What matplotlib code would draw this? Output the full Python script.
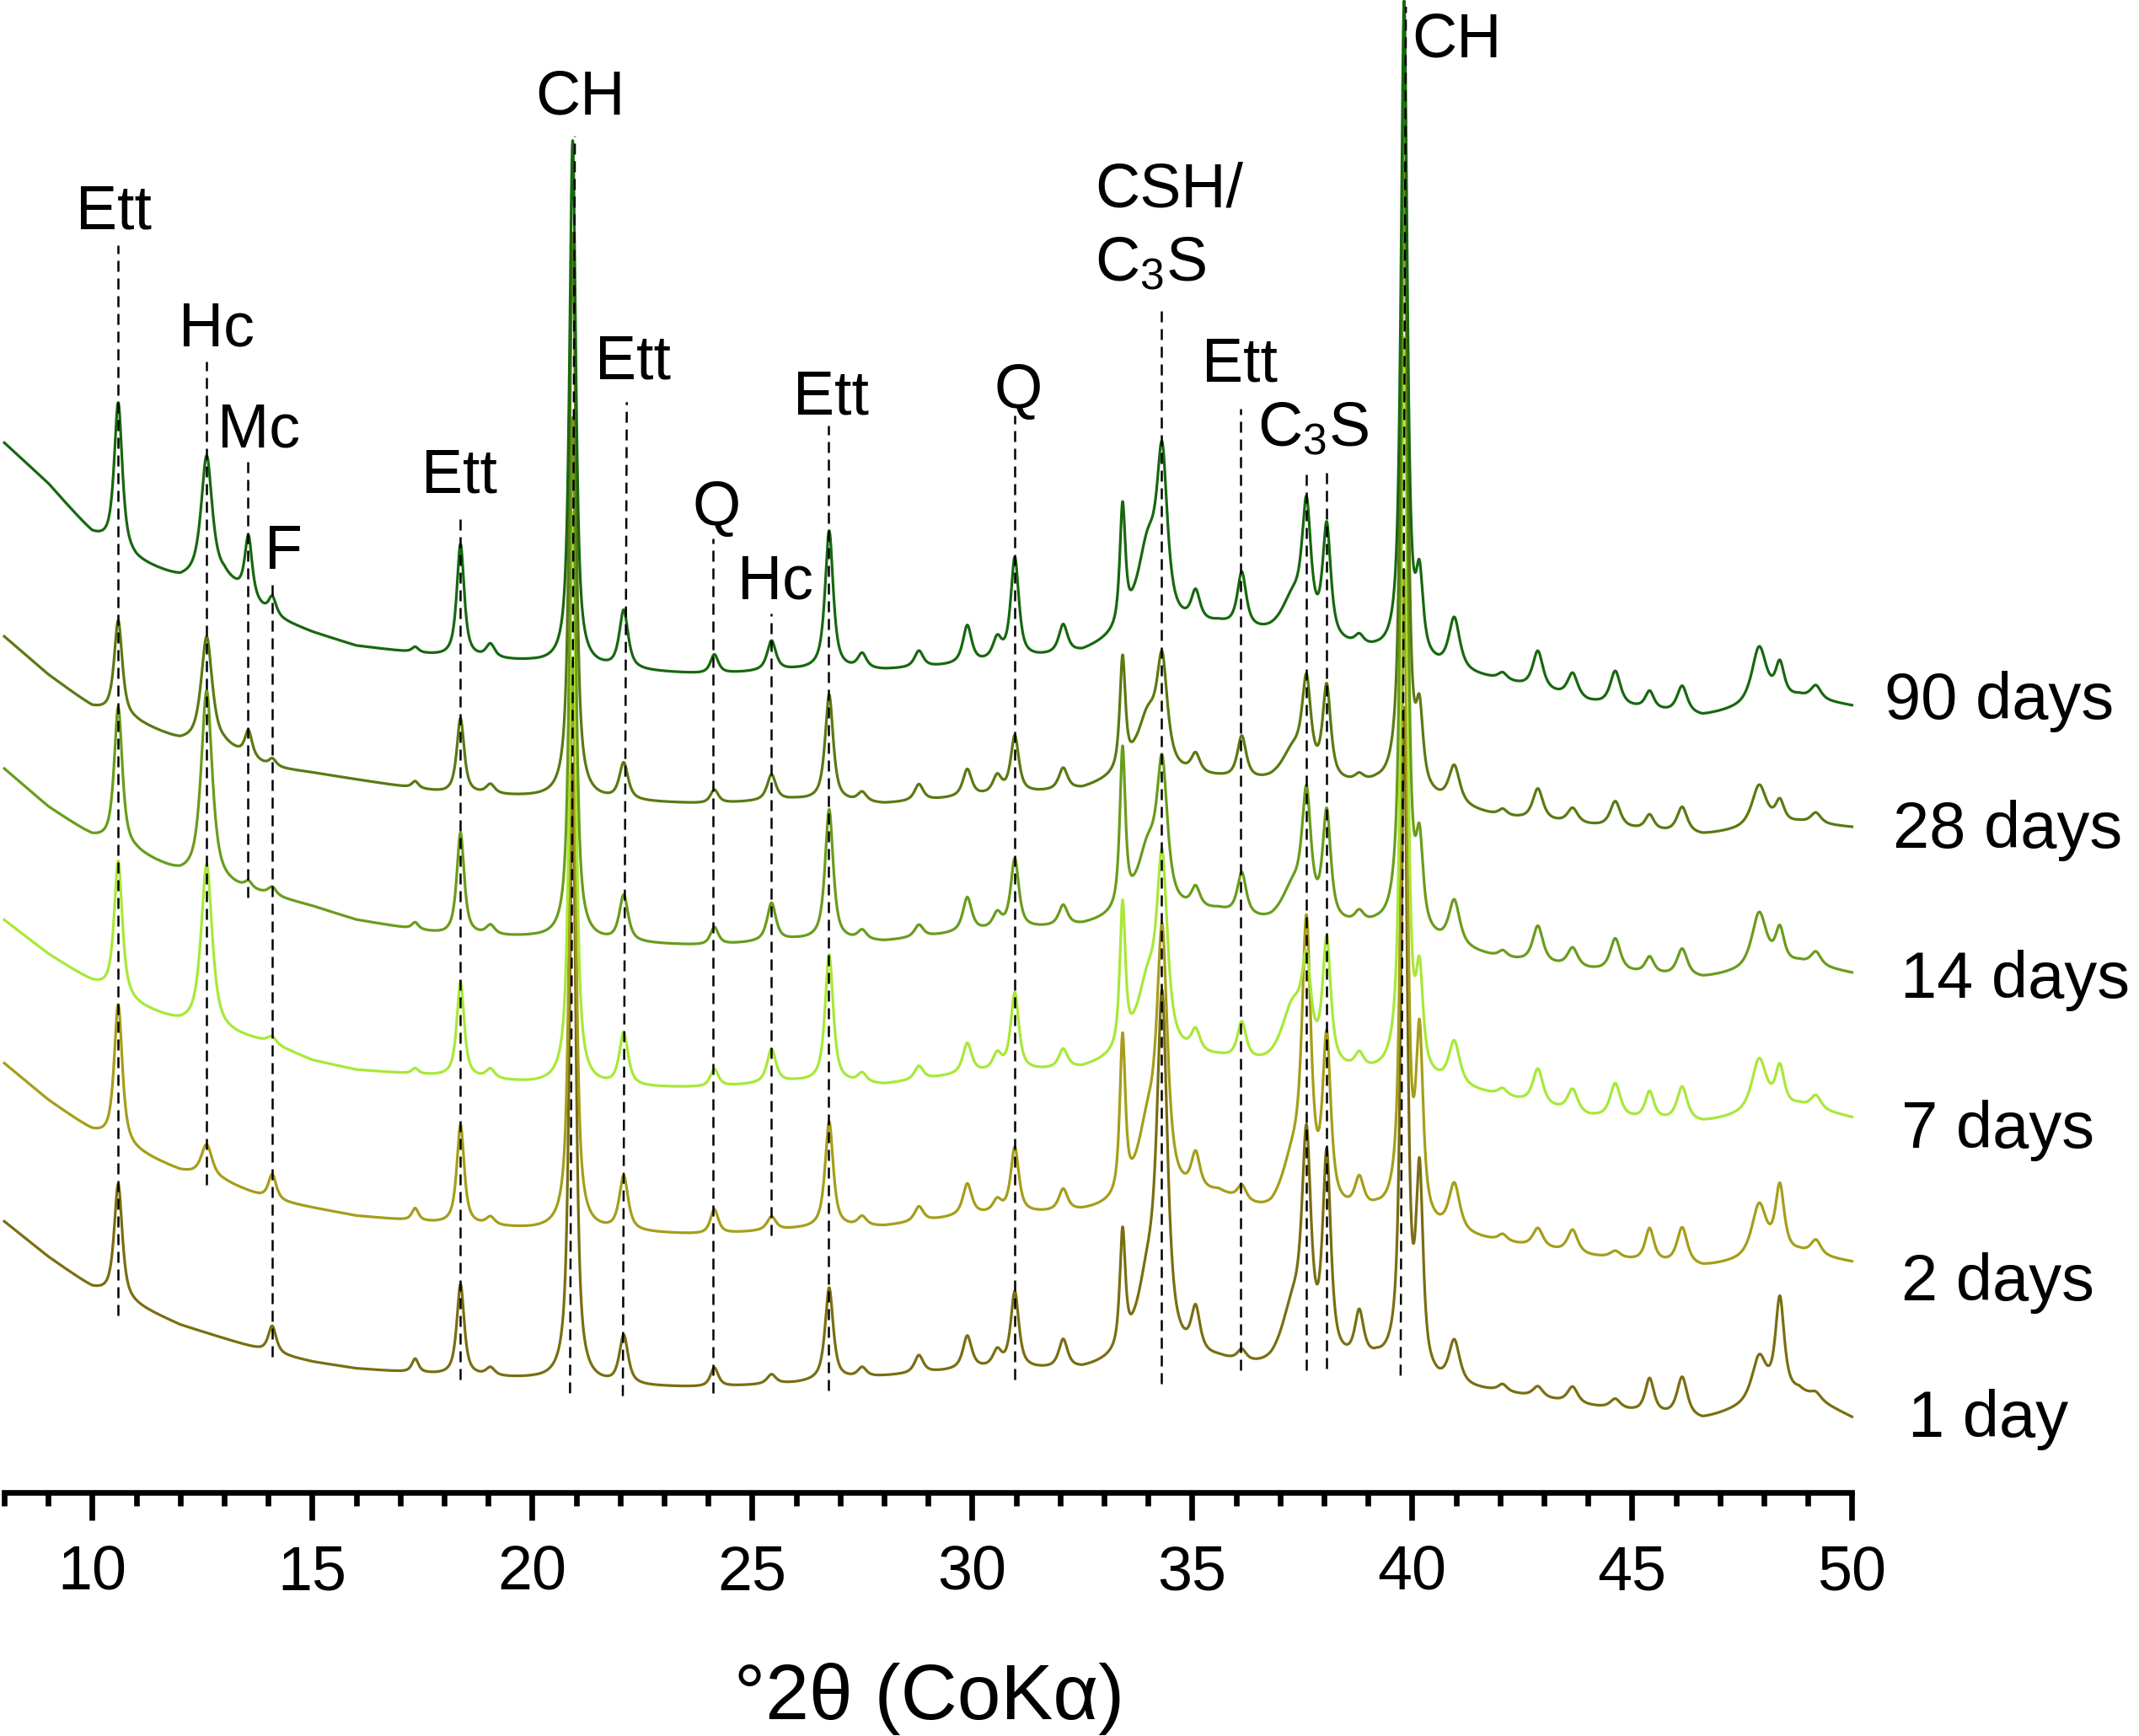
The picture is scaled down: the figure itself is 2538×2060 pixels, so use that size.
import numpy as np
import matplotlib.pyplot as plt

plt.rcParams['font.family'] = ['Liberation Sans', 'DejaVu Sans']
plt.rcParams['mathtext.fontset'] = 'custom'
plt.rcParams['mathtext.rm'] = 'Liberation Sans'
plt.rcParams['mathtext.sf'] = 'Liberation Sans'
plt.rcParams['mathtext.it'] = 'Liberation Serif'

# background anchors (deg 2theta) and background intensity of each pattern (a.u., offset stacked)
anchor_2theta = [8, 9, 10, 11, 12, 13, 14, 15, 16, 18, 20, 22, 24, 26, 28, 30, 32.5, 33.7,
                 35.6, 36.8, 39.2, 40.6, 42, 44, 46.6, 48.8, 50]
bg_90d = [770, 740, 703, 683, 670, 670, 643, 631, 621, 613, 609, 603, 600, 603, 603, 607, 615, 630,
          635, 627, 615, 603, 595, 579, 569, 583, 577]
bg_28d = [628, 600, 576, 565, 551, 547, 532, 528, 523, 513, 510, 507, 505, 508, 505, 510, 515, 527,
          523, 519, 517, 505, 495, 489, 482, 491, 488]
bg_14d = [531, 503, 481, 469, 453, 445, 438, 430, 420, 409, 407, 403, 401, 405, 404, 411, 415, 423,
          425, 415, 413, 401, 391, 383, 377, 388, 381]
bg_7d = [420, 395, 374, 357, 344, 337, 330, 317, 310, 305, 300, 297, 297, 301, 299, 307, 310, 320,
         317, 310, 305, 298, 290, 275, 271, 283, 275]
bg_2d = [315, 288, 265, 250, 236, 228, 215, 209, 203, 197, 193, 191, 189, 193, 195, 203, 205, 210,
         217, 200, 203, 190, 183, 173, 165, 175, 169]
bg_1d = [199, 173, 150, 137, 123, 113, 103, 96, 91, 86, 83, 78, 77, 80, 85, 90, 89, 97,
         95, 87, 93, 77, 73, 63, 53, 73, 55]

# reflections: position, half width, and height in each pattern
peak_2theta = [10.59, 12.60, 13.55, 14.09, 17.34, 18.37, 19.05, 20.92, 22.08, 24.14, 25.44, 26.75,
               27.5, 28.79, 29.89, 30.57, 30.97, 32.07, 33.42, 34.0, 34.32, 35.08, 36.13, 37.3,
               37.60, 38.06, 38.80, 39.82, 40.17, 40.96, 42.06, 42.86, 43.65, 44.62, 45.40, 46.14,
               47.89, 48.36, 49.18]
peak_hwhm = [0.11, 0.15, 0.1, 0.11, 0.09, 0.1, 0.12, 0.085, 0.12, 0.11, 0.12, 0.11,
             0.12, 0.12, 0.12, 0.12, 0.11, 0.12, 0.075, 0.28, 0.14, 0.12, 0.12, 0.32,
             0.12, 0.11, 0.12, 0.085, 0.095, 0.15, 0.12, 0.14, 0.14, 0.14, 0.12, 0.14,
             0.2, 0.12, 0.14]
h_90d = [108, 90, 45, 14, 4, 83, 10, 385, 43, 14, 22, 102, 11, 12, 28, 15, 74, 21, 88, 60, 112, 22,
         40, 28, 88, 82, 7, 480, 54, 38, 5, 28, 18, 25, 13, 20, 42, 25, 10]
h_28d = [70, 79, 19, 6, 5, 55, 7, 415, 27, 10, 19, 78, 7, 12, 20, 13, 42, 16, 82, 40, 73, 14,
         31, 23, 66, 68, 5, 540, 51, 28, 5, 23, 11, 19, 11, 19, 31, 16, 8]
h_14d = [102, 140, 5, 6, 5, 75, 7, 383, 34, 13, 28, 96, 7, 9, 25, 11, 51, 15, 117, 45, 97, 15,
         31, 26, 86, 79, 8, 563, 59, 33, 5, 27, 14, 24, 12, 20, 41, 25, 10]
h_7d = [99, 121, 0, 5, 4, 70, 7, 420, 39, 13, 25, 94, 7, 10, 22, 12, 57, 14, 106, 50, 130, 16,
        27, 45, 60, 91, 11, 540, 67, 32, 5, 26, 17, 25, 20, 25, 39, 29, 10]
h_2d = [102, 24, 0, 19, 9, 73, 6, 417, 40, 18, 10, 78, 7, 11, 23, 9, 48, 16, 116, 52, 181, 27,
        11, 38, 196, 121, 22, 470, 130, 35, 5, 14, 17, 5, 24, 27, 39, 49, 11]
h_1d = [84, 0, 0, 20, 10, 67, 6, 447, 36, 14, 7, 68, 7, 13, 24, 12, 56, 21, 86, 52, 248, 32,
        8, 43, 150, 147, 34, 480, 140, 32, 5, 8, 12, 7, 25, 29, 33, 71, 5]

ages = ['1 day', '2 days', '7 days', '14 days', '28 days', '90 days']
backgrounds = [bg_1d, bg_2d, bg_7d, bg_14d, bg_28d, bg_90d]
heights = [h_1d, h_2d, h_7d, h_14d, h_28d, h_90d]
colors = ['#7A6E12', '#A59E1A', '#A8E838', '#6A9C1C', '#5A7A12', '#17680F']

# phase marks
phase_names = ['Ett', 'Hc', 'Mc', 'F', 'Ett', 'CH', 'Ett', 'Q', 'Hc', 'Ett', 'Q',
               'CSH/', r'C$_\mathrm{3}$S', 'Ett', r'C$_\mathrm{3}$S', 'CH']
name_x = [10.48, 12.82, 13.78, 14.34, 18.34, 21.09, 22.29, 24.19, 25.53, 26.79, 31.04,
          34.47, 34.05, 36.09, 37.75, 41.01]
name_y = [927, 841, 767, 678, 734, 1011, 817, 710, 656, 791, 796, 943, 889, 815, 768, 1053]
mark_x0 = [10.59, 12.60, 13.53, 14.09, 18.37, 20.86, 22.06, 24.11, 25.44, 26.74, 30.96,
           34.31, 36.11, 37.60, 38.06, 39.74]
mark_x1 = [10.59, 12.60, 13.53, 14.09, 18.37, 20.97, 22.15, 24.11, 25.44, 26.74, 30.96,
           34.31, 36.11, 37.60, 38.06, 39.86]
mark_y0 = [130, 226, 437, 100, 83, 73, 71, 73, 189, 75, 83, 80, 90, 90, 91, 86]
mark_y1 = [915, 830, 760, 670, 717, 995, 800, 700, 645, 783, 790, 870, 795, 750, 750, 1090]

age_x = [51.28, 51.13, 51.13, 51.10, 50.94, 50.73]
age_y = [41, 141, 253, 363, 473, 568]

two_theta = np.arange(8.0, 50.0005, 0.005)


def pattern(bg, hts):
    y = np.interp(two_theta, anchor_2theta, bg)
    for pos, w, h in zip(peak_2theta, peak_hwhm, hts):
        u = ((two_theta - pos) / w) ** 2
        y = y + h * (0.8 / (1 + u) + 0.2 * np.exp(-np.log(2) * u))
    return y


fig = plt.figure(figsize=(25.38, 20.60), dpi=100)
ax = fig.add_axes([0.00201, 0.14005, 0.8638, 0.85995])

for bg, hts, c in zip(backgrounds, heights, colors):
    ax.plot(two_theta, pattern(bg, hts), color=c, lw=2.3, clip_on=False, zorder=2)

for x0, x1, y0, y1 in zip(mark_x0, mark_x1, mark_y0, mark_y1):
    ax.plot([x0, x1], [y0, y1], color='black', lw=1.8, linestyle=(0, (5.2, 3.2)), zorder=3)

for t, x, y in zip(phase_names, name_x, name_y):
    ax.text(x, y, t, fontsize=53, ha='center', va='baseline', clip_on=False)

for t, x, y in zip(ages, age_x, age_y):
    ax.text(x, y, t, fontsize=56, ha='left', va='baseline', clip_on=False)

ax.set_xlim(8, 50)
ax.set_ylim(0, 1095)
for s in ['top', 'left', 'right']:
    ax.spines[s].set_visible(False)
ax.spines['bottom'].set_linewidth(4.8)
ax.set_yticks([])
ax.set_xticks(np.arange(10, 51, 5))
ax.set_xticks(np.arange(8, 51, 1), minor=True)
ax.tick_params(axis='x', which='major', length=24, width=4.8, direction='out', pad=20, labelsize=53)
ax.tick_params(axis='x', which='minor', length=11.5, width=4.8, direction='out')

fig.text(0.4346, 0.0097, '°2θ (CoKα)', fontsize=67, ha='center', va='baseline')

fig.savefig('out.png', dpi=100, facecolor='white')
